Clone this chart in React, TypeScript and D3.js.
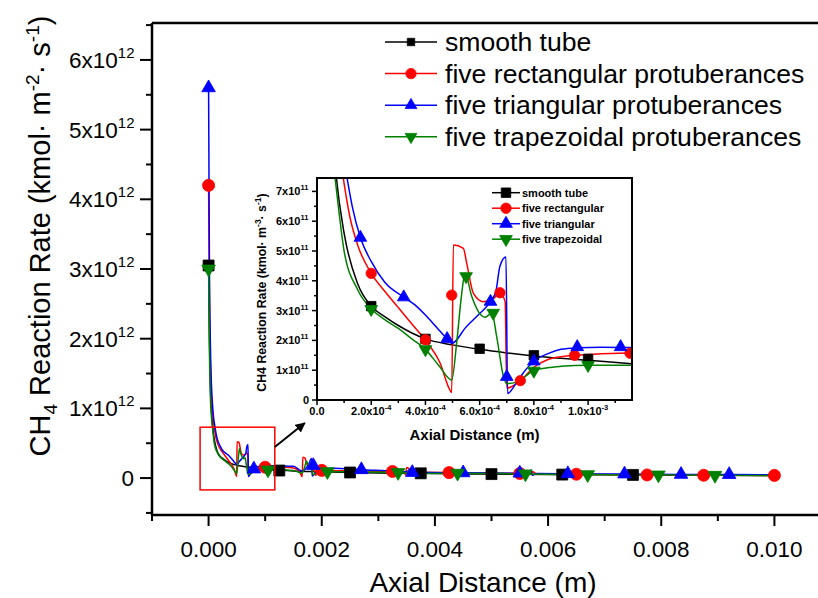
import React from "react";
import * as d3 from "d3";

const W = 818;
const H = 598;
const FONT = "'Liberation Sans', Arial, Helvetica, sans-serif";

// Units: x in 1e-4 m, y in 1e11 kmol·m^-2·s^-1
const smoothLine: [number, number][] = [
  [0, 30.5], [0.15, 20], [0.3, 14], [0.5, 10], [0.7, 7.6], [1.0, 5.6], [1.5, 3.9], [2.0, 3.15],
  [2.5, 2.8], [3.0, 2.5], [3.5, 2.25], [4.0, 2.05], [5.0, 1.85], [6.0, 1.7], [7.0, 1.58], [8.0, 1.48],
  [9.0, 1.4], [10, 1.33], [11.6, 1.22], [13, 1.12], [15, 1.02], [20, 0.9], [25, 0.8], [30, 0.74],
  [37.5, 0.68], [45, 0.6], [50, 0.57], [60, 0.51], [70, 0.47], [80, 0.43], [90, 0.4], [100, 0.38],
];
const rectLine: [number, number][] = [
  [0, 42], [0.15, 25], [0.3, 17], [0.5, 12], [0.7, 9.2], [0.96, 7.5], [1.2, 6.2], [1.5, 5.2], [2.0, 4.25],
  [2.5, 3.65], [3.0, 3.1], [3.5, 2.55], [4.0, 2.0], [4.54, 1.24], [4.9, 0.34], [4.97, 0.25], [5.03, 5.2],
  [5.4, 5.09], [5.52, 4.6], [5.77, 3.58], [6.14, 3.3], [6.5, 3.4], [6.75, 3.6], [6.94, 3.3], [7.0, 0.4],
  [7.5, 0.65], [8.0, 1.1], [8.5, 1.35], [9.0, 1.45], [9.6, 1.5], [10.5, 1.55], [11.6, 1.58], [13, 1.55],
  [15, 1.45], [16.0, 1.0], [16.55, 0.2], [16.65, 3.0], [17.0, 2.9], [17.5, 1.8], [18.5, 1.5], [18.9, 0.4],
  [19.5, 0.8], [20.5, 1.1], [25, 1.05], [30, 0.97], [34.5, 0.9], [34.8, 0.45], [35.0, 1.5], [35.5, 1.3],
  [36.3, 0.6], [37.5, 0.85], [45, 0.77], [55, 0.66], [57, 0.6], [57.3, 0.9], [58, 0.6], [65, 0.55],
  [77.5, 0.45], [87.5, 0.4], [100, 0.38],
];
const triLine: [number, number][] = [
  [0, 56], [0.15, 30], [0.3, 20], [0.5, 13.5], [0.7, 10.5], [0.9, 8.6], [1.1, 7.5], [1.3, 6.5], [1.6, 5.45],
  [2.0, 4.65], [2.5, 3.95], [3.2, 3.45], [3.6, 3.2], [4.0, 2.85], [4.4, 2.45], [4.8, 2.05], [4.97, 1.9],
  [5.5, 2.45], [6.0, 2.9], [6.4, 3.3], [6.6, 3.65], [6.75, 4.5], [6.97, 4.8], [7.03, 0.22], [7.3, 0.5],
  [7.6, 0.9], [8.0, 1.3], [8.5, 1.55], [9.0, 1.7], [9.6, 1.75], [10.5, 1.77], [11.6, 1.76], [13, 1.75],
  [15, 1.7], [16.5, 1.0], [17.0, 1.2], [17.7, 2.0], [18.2, 2.8], [18.3, 0.3], [19, 0.9], [20, 1.3],
  [22, 1.4], [27, 1.2], [33, 1.0], [35, 0.9], [35.8, 1.4], [36, 0.3], [37, 0.8], [45, 0.75], [55, 0.7],
  [56.5, 0.75], [57, 1.15], [57.2, 0.4], [58, 0.65], [63.5, 0.62], [73.5, 0.58], [83.5, 0.52],
  [92, 0.5], [100, 0.48],
];
const trapLine: [number, number][] = [
  [0, 30], [0.15, 18], [0.3, 12], [0.5, 8.8], [0.66, 7.5], [0.8, 6.4], [1.0, 5.0], [1.5, 3.7], [2.0, 3.05],
  [2.5, 2.7], [3.0, 2.4], [3.5, 2.05], [4.0, 1.7], [4.5, 1.15], [4.97, 0.67], [5.15, 1.9], [5.33, 3.5],
  [5.46, 4.25], [5.71, 3.47], [5.96, 2.96], [6.2, 2.78], [6.45, 2.92], [6.63, 2.12], [6.88, 0.78],
  [7.0, 0.55], [7.37, 0.6], [7.98, 0.98], [8.5, 1.08], [9.0, 1.13], [10, 1.17], [11.6, 1.17], [13, 1.15],
  [15, 1.1], [16.5, 0.7], [17.0, 1.6], [17.3, 2.4], [17.8, 1.6], [18.2, 1.5], [18.4, 0.5], [19, 0.7],
  [20, 0.95], [25, 0.9], [33.5, 0.8], [35, 0.7], [35.5, 1.1], [36, 0.5], [37, 0.65], [44, 0.7],
  [56, 0.6], [67, 0.5], [79.5, 0.45], [89.5, 0.4], [100, 0.37],
];

// markers shown on the main plot
const smoothMainMarks: [number, number][] = [[0, 30.5], [12.5, 1.08], [25, 0.8], [37.5, 0.68], [50, 0.57], [62.5, 0.5], [75, 0.45]];
const rectMainMarks: [number, number][] = [[0, 42], [10, 1.55], [20, 1.1], [32.5, 0.95], [42.5, 0.78], [55, 0.65], [65, 0.55], [77.5, 0.45], [87.5, 0.4], [100, 0.38]];
const triMainMarks: [number, number][] = [[0, 56], [8, 1.3], [18.5, 1.8], [27, 1.2], [36, 0.8], [45, 0.75], [55, 0.7], [63.5, 0.62], [73.5, 0.58], [83.5, 0.52], [92, 0.5]];
const trapMainMarks: [number, number][] = [[0, 30], [10.5, 1.17], [21, 0.93], [33.5, 0.8], [44, 0.7], [56, 0.6], [67, 0.5], [79.5, 0.45], [89.5, 0.4]];

// markers shown in the inset
const smoothInsetMarks: [number, number][] = [[2.0, 3.15], [4.0, 2.05], [6.0, 1.72], [8.0, 1.5], [10.0, 1.38]];
const rectInsetMarks: [number, number][] = [[2.0, 4.25], [4.0, 2.02], [4.97, 3.52], [6.75, 3.6], [7.5, 0.65], [9.5, 1.5], [11.55, 1.57]];
const triInsetMarks: [number, number][] = [[1.6, 5.45], [3.2, 3.45], [4.8, 2.05], [6.4, 3.3], [7.0, 0.78], [8.0, 1.3], [9.6, 1.78], [11.2, 1.78]];
const trapInsetMarks: [number, number][] = [[2.0, 3.05], [4.0, 1.7], [5.5, 4.15], [6.5, 2.92], [8.0, 0.98], [10.0, 1.17]];

const seriesNames = ["smooth tube", "five rectangular protuberances", "five triangular protuberances", "five trapezoidal protuberances"];
const insetNames = ["smooth tube", "five rectangular", "five triangular", "five trapezoidal"];
const seriesColors = ["#000000", "#ff0000", "#0000ff", "#008000"];
const seriesShapes = ["square", "circle", "triangle", "down"];

const mainXTicks = [0, 20, 40, 60, 80, 100];
const mainXLabels = ["0.000", "0.002", "0.004", "0.006", "0.008", "0.010"];
const mainXMinor = [-10, 10, 30, 50, 70, 90, 110];
const mainYTicks = [0, 10, 20, 30, 40, 50, 60];
const mainYLabels = ["0", "1", "2", "3", "4", "5", "6"];
const mainYMinor = [-5, 5, 15, 25, 35, 45, 55, 65];

const insetXTicks = [0, 2, 4, 6, 8, 10];
const insetXLabels = [["0.0", ""], ["2.0x10", "-4"], ["4.0x10", "-4"], ["6.0x10", "-4"], ["8.0x10", "-4"], ["1.0x10", "-3"]];
const insetXMinor = [1, 3, 5, 7, 9, 11];
const insetYTicks = [0, 1, 2, 3, 4, 5, 6, 7];
const insetYLabels = ["0", "1", "2", "3", "4", "5", "6", "7"];
const insetYMinor = [0.5, 1.5, 2.5, 3.5, 4.5, 5.5, 6.5];

// zoom box (data coords of main plot) and arrow
const zoomBox = { x0: -1.5, x1: 11.7, y0: -1.7, y1: 7.3 };
const arrowFrom: [number, number] = [11.7, 4.45];
const arrowTo: [number, number] = [17.0, 7.9];

const lines = [smoothLine, rectLine, triLine, trapLine];
const mainMarks = [smoothMainMarks, rectMainMarks, triMainMarks, trapMainMarks];
const insetMarks = [smoothInsetMarks, rectInsetMarks, triInsetMarks, trapInsetMarks];

function symbolPath(shape: string, size: number) {
  const t = shape === "square" ? d3.symbolSquare : shape === "circle" ? d3.symbolCircle : d3.symbolTriangle;
  return d3.symbol().type(t).size(size)() as string;
}

function Marker({ x, y, shape, color, size }: { x: number; y: number; shape: string; color: string; size: number }) {
  const rot = shape === "down" ? " rotate(180)" : "";
  return <path d={symbolPath(shape, size)} transform={`translate(${x},${y})${rot}`} fill={color} stroke={color} strokeWidth={0.8} />;
}

export default function App() {
  // main plot
  const mL = 152, mR = 831, mT = 23, mB = 515;
  const xm = d3.scaleLinear().domain([-10, 110]).range([mL, mR]);
  const ym = d3.scaleLinear().domain([-5.3, 65.3]).range([mB, mT]);
  // inset
  const iL = 317, iR = 632, iT = 178, iB = 400;
  const xi = d3.scaleLinear().domain([0, 11.62]).range([iL, iR]);
  const yi = d3.scaleLinear().domain([0, 7.45]).range([iB, iT]);

  const lineMain = d3.line<[number, number]>().x((d) => xm(d[0])).y((d) => ym(d[1])).curve(d3.curveMonotoneX);
  const lineInset = d3.line<[number, number]>().x((d) => xi(d[0])).y((d) => yi(d[1])).curve(d3.curveMonotoneX);

  const mainSizes: Record<string, number> = { square: 120, circle: 115, triangle: 80, down: 80 };
  const insetSizes: Record<string, number> = { square: 90, circle: 85, triangle: 70, down: 70 };
  const legSizes: Record<string, number> = { square: 55, circle: 85, triangle: 60, down: 60 };

  return (
    <svg width={W} height={H} style={{ display: "block", position: "absolute", left: 0, top: 0, background: "#fff" }} fontFamily={FONT}>
      <defs>
        <clipPath id="mainClip"><rect x={mL} y={mT} width={mR - mL} height={mB - mT} /></clipPath>
        <clipPath id="insetClip"><rect x={iL} y={iT} width={iR - iL} height={iB - iT} /></clipPath>
        <marker id="arrowHead" viewBox="0 0 10 10" refX="9" refY="5" markerWidth="5" markerHeight="5" orient="auto">
          <path d="M0,0 L10,5 L0,10 z" fill="#000" />
        </marker>
      </defs>
      <rect x={0} y={0} width={W} height={H} fill="#fff" />

      {/* main data */}
      <g clipPath="url(#mainClip)">
        {lines.map((ln, i) => (
          <path key={i} d={lineMain(ln) as string} fill="none" stroke={seriesColors[i]} strokeWidth={1.5} />
        ))}
        {mainMarks.map((mk, i) =>
          mk.map((p, j) => (
            <Marker key={`${i}-${j}`} x={xm(p[0])} y={ym(p[1])} shape={seriesShapes[i]} color={seriesColors[i]} size={mainSizes[seriesShapes[i]]} />
          ))
        )}
      </g>

      {/* zoom box and arrow */}
      <rect x={xm(zoomBox.x0)} y={ym(zoomBox.y1)} width={xm(zoomBox.x1) - xm(zoomBox.x0)} height={ym(zoomBox.y0) - ym(zoomBox.y1)} fill="none" stroke="#ff0000" strokeWidth={1.5} />
      <line x1={xm(arrowFrom[0])} y1={ym(arrowFrom[1])} x2={xm(arrowTo[0])} y2={ym(arrowTo[1])} stroke="#000" strokeWidth={2} markerEnd="url(#arrowHead)" />

      {/* main axes frame */}
      <line x1={mL} y1={mT} x2={mR} y2={mT} stroke="#000" strokeWidth={2.5} />
      <line x1={mL} y1={mT} x2={mL} y2={mB} stroke="#000" strokeWidth={2.5} />
      <line x1={mL} y1={mB} x2={mR} y2={mB} stroke="#000" strokeWidth={2.5} />
      <line x1={mR} y1={mT} x2={mR} y2={mB} stroke="#000" strokeWidth={2.5} />

      {mainXTicks.map((t, i) => (
        <g key={`mx${i}`}>
          <line x1={xm(t)} x2={xm(t)} y1={mB} y2={mB + 11} stroke="#000" strokeWidth={2} />
          <text x={xm(t)} y={mB + 42} textAnchor="middle" fontSize={22.5}>{mainXLabels[i]}</text>
        </g>
      ))}
      {mainXMinor.map((t, i) => (
        <line key={`mxm${i}`} x1={xm(t)} x2={xm(t)} y1={mB} y2={mB + 6} stroke="#000" strokeWidth={2} />
      ))}
      {mainYTicks.map((t, i) => (
        <g key={`my${i}`}>
          <line x1={mL - 12} x2={mL} y1={ym(t)} y2={ym(t)} stroke="#000" strokeWidth={2} />
          {mainYLabels[i] === "0" ? (
            <text x={134} y={ym(t) + 8} textAnchor="end" fontSize={22.5}>0</text>
          ) : (
            <text x={69} y={ym(t) + 8} textAnchor="start" fontSize={22.5}>
              {mainYLabels[i] + "x10"}<tspan dy={-10} fontSize={15}>12</tspan>
            </text>
          )}
        </g>
      ))}
      {mainYMinor.map((t, i) => (
        <line key={`mym${i}`} x1={mL - 6} x2={mL} y1={ym(t)} y2={ym(t)} stroke="#000" strokeWidth={2} />
      ))}

      {/* main titles */}
      <text x={483} y={592} textAnchor="middle" fontSize={28}>Axial Distance (m)</text>
      <text transform={`translate(50,${236}) rotate(-90)`} textAnchor="middle" fontSize={29}>
        CH<tspan dy={7} fontSize={19}>4</tspan><tspan dy={-7}> Reaction Rate (kmol·  m</tspan>
        <tspan dy={-11} fontSize={19}>-2</tspan><tspan dy={11}>·  s</tspan>
        <tspan dy={-11} fontSize={19}>-1</tspan><tspan dy={11}>)</tspan>
      </text>

      {/* main legend */}
      {seriesNames.map((name, i) => {
        const y = 42 + i * 31.6;
        return (
          <g key={`lg${i}`}>
            <line x1={385} x2={437} y1={y} y2={y} stroke={seriesColors[i]} strokeWidth={1.5} />
            <Marker x={411} y={y} shape={seriesShapes[i]} color={seriesColors[i]} size={legSizes[seriesShapes[i]]} />
            <text x={445} y={y + 9} fontSize={26.6}>{name}</text>
          </g>
        );
      })}

      {/* inset */}
      <rect x={iL} y={iT} width={iR - iL} height={iB - iT} fill="#fff" />
      <g clipPath="url(#insetClip)">
        {lines.map((ln, i) => (
          <path key={`il${i}`} d={lineInset(ln) as string} fill="none" stroke={seriesColors[i]} strokeWidth={1.5} />
        ))}
        {insetMarks.map((mk, i) =>
          mk.map((p, j) => (
            <Marker key={`im${i}-${j}`} x={xi(p[0])} y={yi(p[1])} shape={seriesShapes[i]} color={seriesColors[i]} size={insetSizes[seriesShapes[i]]} />
          ))
        )}
      </g>
      <rect x={iL} y={iT} width={iR - iL} height={iB - iT} fill="none" stroke="#000" strokeWidth={2} />
      {insetXTicks.map((t, i) => (
        <g key={`ix${i}`}>
          <line x1={xi(t)} x2={xi(t)} y1={iB} y2={iB + 5} stroke="#000" strokeWidth={1.5} />
          <text x={xi(t)} y={iB + 15} textAnchor="middle" fontSize={11} fontWeight="bold">
            {insetXLabels[i][0]}
            {insetXLabels[i][1] && <tspan dy={-5} fontSize={7.5}>{insetXLabels[i][1]}</tspan>}
          </text>
        </g>
      ))}
      {insetXMinor.map((t, i) => (
        <line key={`ixm${i}`} x1={xi(t)} x2={xi(t)} y1={iB} y2={iB + 3} stroke="#000" strokeWidth={1.5} />
      ))}
      {insetYTicks.map((t, i) => (
        <g key={`iy${i}`}>
          <line x1={iL - 5} x2={iL} y1={yi(t)} y2={yi(t)} stroke="#000" strokeWidth={1.5} />
          {insetYLabels[i] === "0" ? (
            <text x={iL - 8} y={yi(t) + 4} textAnchor="end" fontSize={11} fontWeight="bold">0</text>
          ) : (
            <text x={276} y={yi(t) + 4} textAnchor="start" fontSize={11} fontWeight="bold">
              {insetYLabels[i] + "x10"}<tspan dy={-5} fontSize={7.5}>11</tspan>
            </text>
          )}
        </g>
      ))}
      {insetYMinor.map((t, i) => (
        <line key={`iym${i}`} x1={iL - 3} x2={iL} y1={yi(t)} y2={yi(t)} stroke="#000" strokeWidth={1.5} />
      ))}
      <text x={(iL + iR) / 2} y={440} textAnchor="middle" fontSize={15} fontWeight="bold">Axial Distance (m)</text>
      <text transform={`translate(266,292.5) rotate(-90)`} textAnchor="middle" fontSize={12.3} fontWeight="bold">
        CH4 Reaction Rate (kmol·  m<tspan dy={-5} fontSize={8.5}>-3</tspan><tspan dy={5}>·  s</tspan>
        <tspan dy={-5} fontSize={8.5}>-1</tspan><tspan dy={5}>)</tspan>
      </text>
      {insetNames.map((name, i) => {
        const y = 192.7 + i * 15.5;
        return (
          <g key={`il2${i}`}>
            <line x1={492} x2={520} y1={y} y2={y} stroke={seriesColors[i]} strokeWidth={1.5} />
            <Marker x={506} y={y} shape={seriesShapes[i]} color={seriesColors[i]} size={insetSizes[seriesShapes[i]]} />
            <text x={522} y={y + 4} fontSize={11} fontWeight="bold">{name}</text>
          </g>
        );
      })}
    </svg>
  );
}
